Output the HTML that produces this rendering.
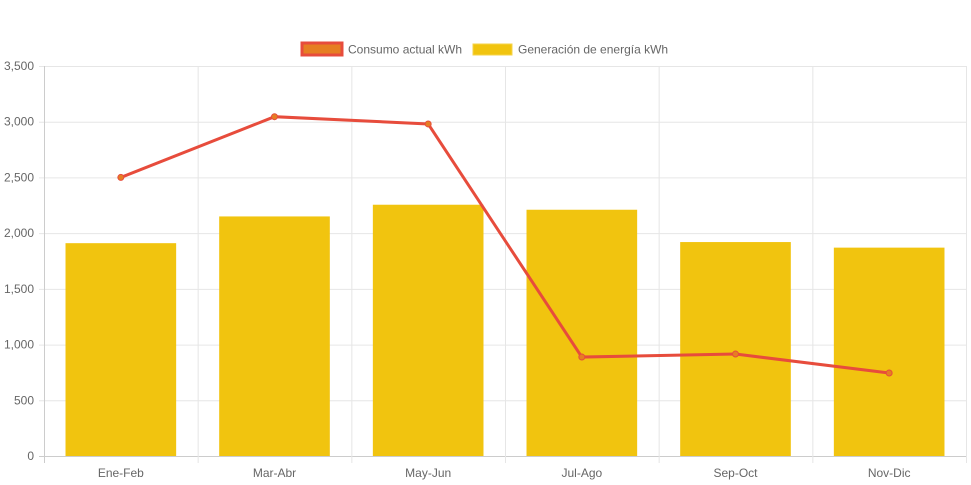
<!DOCTYPE html>
<html><head><meta charset="utf-8"><style>
body{margin:0;background:#fff;font-family:"Liberation Sans",sans-serif}
svg{display:block}
</style></head><body>
<svg id="chart" width="971" height="485">
<g>
 <rect x="302" y="43" width="40" height="12" fill="#e67e22" stroke="#e74c3c" stroke-width="3"/>
 <text x="348" y="53.5" font-size="12" fill="#666">Consumo actual kWh</text>
 <rect x="473" y="44" width="39" height="11" fill="#f1c40f" stroke="#f5d34a" stroke-width="1"/>
 <text x="518" y="53.5" font-size="12" fill="#666">Generación de energía kWh</text>
</g>
<g id="grid"></g><g id="bars"></g><g id="line"></g><g id="labels"></g>
</svg>
<script>
const categories=["Ene-Feb","Mar-Abr","May-Jun","Jul-Ago","Sep-Oct","Nov-Dic"];
const generacion=[1910,2150,2255,2210,1920,1870];
const consumo=[2500,3045,2980,888,915,745];
const yTicks=[0,500,1000,1500,2000,2500,3000,3500];
const yTickLabels=["0","500","1,000","1,500","2,000","2,500","3,000","3,500"];
const NS="http://www.w3.org/2000/svg";
const L=44,R=966,T=66,B=456,yMax=3500;
const bw=(R-L)/categories.length;
const y=v=>B-(v/yMax)*(B-T);
const xc=i=>L+bw*(i+0.5);
function mk(tag,attrs,parent){const e=document.createElementNS(NS,tag);for(const k in attrs)e.setAttribute(k,attrs[k]);document.getElementById(parent).appendChild(e);return e;}
yTicks.forEach((t,i)=>{
 const g=mk("line",{x1:L-5,x2:R,y1:y(t)+0.5,y2:y(t)+0.5,stroke:i==0?"#ccc":"#e6e6e6"},"grid");
 
 
 const tx=mk("text",{x:L-10,y:y(t)+4,"text-anchor":"end","font-size":"12",fill:"#666"},"labels");
 tx.textContent=yTickLabels[i];
 
 
});
for(let i=0;i<=categories.length;i++){
 const g=mk("line",{x1:L+bw*i+0.5,x2:L+bw*i+0.5,y1:T,y2:B+7,stroke:i==0?"#ccc":"#e6e6e6"},"grid");
 
 
}
categories.forEach((c,i)=>{
 const w=bw*0.72;
 const b=mk("rect",{x:xc(i)-w/2,y:y(generacion[i]),width:w,height:B-y(generacion[i]),fill:"#f1c40f"},"bars");
 
 
 const tx=mk("text",{x:xc(i),y:B+21,"text-anchor":"middle","font-size":"12",fill:"#666"},"labels");
 tx.textContent=c;
 
 
});
const p=mk("polyline",{points:consumo.map((v,i)=>xc(i)+","+y(v)).join(" "),fill:"none",stroke:"#e74c3c","stroke-width":3},"line");


consumo.forEach((v,i)=>{
 const c=mk("circle",{cx:xc(i),cy:y(v),r:3,fill:"#e67e22",stroke:"#e74c3c","stroke-width":1},"line");
 
 
});
</script>
</body></html>
